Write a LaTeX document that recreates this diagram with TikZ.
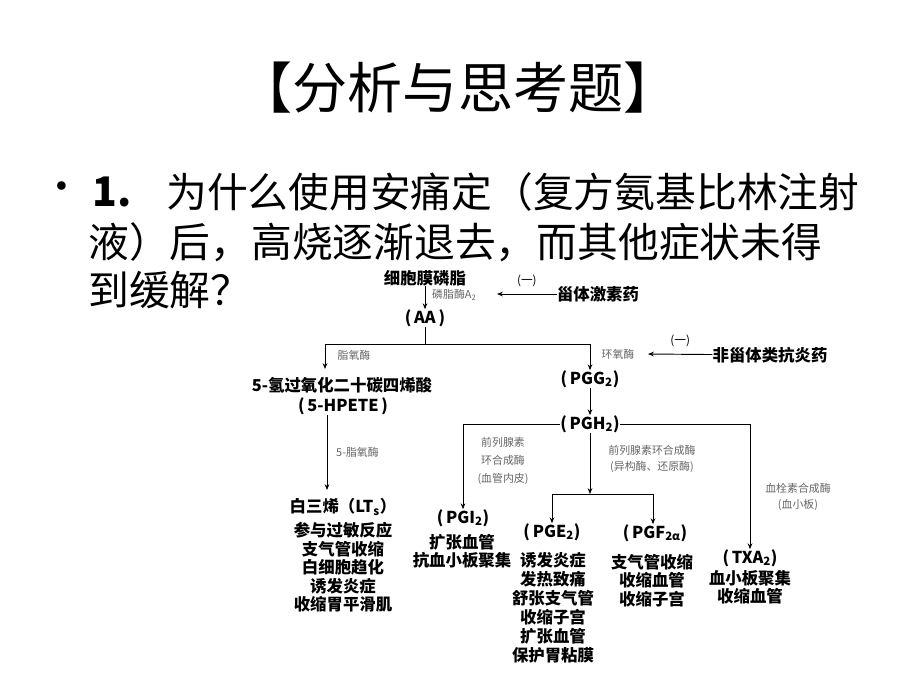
\documentclass[tikz,border=0pt]{standalone}
\usepackage{fontspec}
\setmainfont{Noto Sans CJK SC}
\usetikzlibrary{arrows.meta}
\tikzset{
  ttl/.style={font=\fontsize{47}{52}\selectfont, inner sep=0pt},
  txt/.style={font=\fontsize{34.8}{40}\selectfont, inner sep=0pt},
  hd/.style={font=\fontsize{14}{16}\selectfont\bfseries, inner sep=0pt},
  lst/.style={font=\fontsize{14}{15.8}\selectfont\bfseries, inner sep=0pt, align=center, anchor=north},
  enz/.style={font=\fontsize{9.3}{15}\selectfont, text=black!60, inner sep=0pt, align=center},
  inh/.style={font=\fontsize{10}{12}\selectfont, inner sep=0pt},
  ln/.style={line width=0.8pt},
  ar/.style={line width=0.8pt, -{Stealth[length=5pt,width=4pt]}}
}
\begin{document}
\begin{tikzpicture}[x=0.03cm, y=-0.03cm]
\useasboundingbox (0,0) rectangle (920,690);
\node[ttl] (title) at (458,88) {【分析与思考题】};
\node[txt] (dot) at (62,192) {•};
\node[txt, anchor=west, font=\fontsize{34.8}{40}\selectfont\bfseries] (num) at (92,192) {1.};
\node[txt, anchor=west] (q1) at (166,192) {为什么使用安痛定（复方氨基比林注射};
\node[txt, anchor=west] (q2) at (88,242) {液）后，高烧逐渐退去，而其他症状未得};
\node[txt, anchor=west] (q3) at (88,290) {到缓解？};
% top of the cascade
\node[hd] (pl) at (425,278) {细胞膜磷脂};
\node[hd] (aa) at (425,318) {(\,AA\,)};
\draw[ar] (pl) -- (aa);
\node[enz, anchor=west] (pla) at (432,295) {磷脂酶A\textsubscript{2}};
\node[hd] (ster) at (598,294) {甾体激素药};
\coordinate (s1) at (497,294);
\draw[ar] (ster) -- (s1) node[inh, midway, above=2mm] {(一)};
\coordinate (j1) at (425,344);
\coordinate (tl) at (325,369);
\node[hd] (pgg) at (590,379) {(\,PGG\textsubscript{2})};
\draw[ln] (aa) -- (j1);
\draw[ar] (j1) -| (tl);
\draw[ar] (j1) -| (pgg);
\node[enz] (lox) at (354,355) {脂氧酶};
\node[enz] (cox) at (618,354) {环氧酶};
\node[hd] (nsaid) at (770,355) {非甾体类抗炎药};
\coordinate (s2) at (648,354);
\draw[ar] (nsaid) -- (s2) node[inh, midway, above=2mm] {(一)};
% lipoxygenase branch
\node[hd] (hp) at (342,385) {5-氢过氧化二十碳四烯酸};
\node[hd] (hpete) at (343,406) {(\,5-HPETE\,)};
\coordinate (t5) at (327,490);
\draw[ar] (hpete.south -| t5) -- (t5);
\node[enz, anchor=west] (lox5) at (336,452) {5-脂氧酶};
\node[hd] (lts) at (343,507) {白三烯（LT\textsubscript{s}）};
\node[lst] (ltsf) at (343,522) {参与过敏反应\\支气管收缩\\白细胞趋化\\诱发炎症\\收缩胃平滑肌};
% cyclooxygenase branch
\node[hd] (pgh) at (590,424) {(\,PGH\textsubscript{2})};
\draw[ar] (pgg) -- (pgh);
\node[hd] (pgi) at (463,518) {(\,PGI\textsubscript{2})};
\node[hd] (txa) at (750,558) {(\,TXA\textsubscript{2})};
\draw[ar] (pgh) -| (pgi);
\draw[ar] (pgh) -| (txa);
\coordinate (j2) at (590,494);
\coordinate (jl) at (552,494);
\coordinate (jr) at (653,494);
\node[hd] (pge) at (552,532) {(\,PGE\textsubscript{2})};
\node[hd] (pgf) at (655,533) {(\,PGF\textsubscript{2α})};
\draw[ar] (pgh) -- (j2);
\draw[ln] (jl) -- (jr);
\draw[ar] (jl) -- (pge);
\draw[ar] (jr) -- (pgf.north -| jr);
\node[enz] (pgis) at (503,461) {前列腺素\\环合成酶\\(血管内皮)};
\node[enz, font=\fontsize{9.3}{13}\selectfont] (pges) at (652,459) {前列腺素环合成酶\\(异构酶、还原酶)};
\node[enz, font=\fontsize{9.3}{14}\selectfont] (txs) at (798,497) {血栓素合成酶\\(血小板)};
\node[lst] (pgif) at (462,534) {扩张血管\\抗血小板聚集};
\node[lst, font=\fontsize{14}{16.3}\selectfont\bfseries] (pgef) at (553,552) {诱发炎症\\发热致痛\\舒张支气管\\收缩子宫\\扩张血管\\保护胃粘膜};
\node[lst] (pgff) at (652,554) {支气管收缩\\收缩血管\\收缩子宫};
\node[lst] (txaf) at (750,570) {血小板聚集\\收缩血管};
\end{tikzpicture}
\end{document}
